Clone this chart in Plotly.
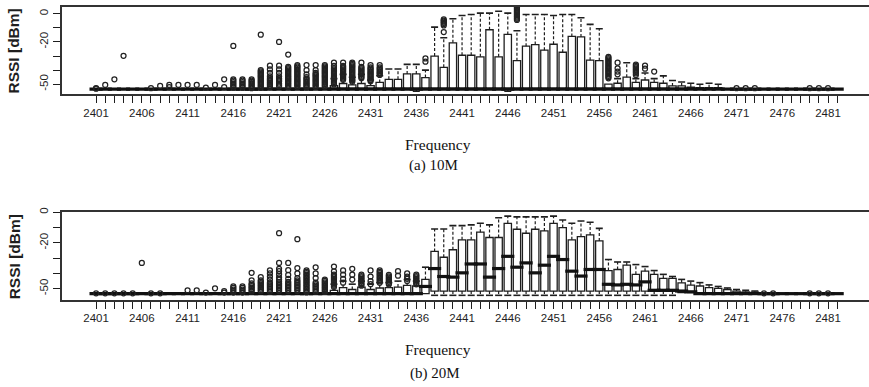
import plotly.graph_objects as go

# ---------------- data ----------------
freqs = list(range(2401, 2483))
label_freqs = [2401, 2406, 2411, 2416, 2421, 2426, 2431, 2436, 2441, 2446,
               2451, 2456, 2461, 2466, 2471, 2476, 2481]
y_ticks = [0, -10, -20, -30, -40, -50]
y_labels = ["0", "", "-20", "", "", "-50"]

# (a) 10M  -- five-number summaries per frequency (2401..2482)
a_q1 = [-53.5] * 82
a_med = [-53.5] * 82
a_q3 = [-53.5, -53.5, -53.5, -53.5, -53.5, -53.5, -53.5, -53.5, -53.5, -53.5,
        -53.5, -53.5, -53.5, -53.5, -53.5, -53.5, -53.5, -53.5, -53.5, -53.5,
        -53.5, -53.5, -53.5, -53.5, -53.5, -53.5, -51.0, -49.5, -50.5, -49.5,
        -51.0, -48.7, -46.5, -46.5, -42.7, -42.7, -45.3, -30.0, -38.0, -20.6,
        -29.4, -29.4, -30.5, -11.3, -30.5, -14.6, -33.3, -23.0, -21.8, -25.8,
        -21.6, -27.3, -16.0, -16.4, -32.9, -33.3, -50.0, -49.3, -45.0, -48.7,
        -47.0, -48.7, -49.3, -51.2, -51.2, -52.0, -52.5, -52.5, -52.5, -53.5,
        -53.5, -53.5, -53.5, -53.5, -53.5, -53.5, -53.5, -53.5, -53.5, -53.5,
        -53.5, -53.5]
a_hi = [-53.5, -53.5, -53.5, -53.5, -53.5, -53.5, -53.5, -53.5, -53.5, -53.5,
        -53.5, -53.5, -53.5, -53.5, -53.5, -53.5, -53.5, -53.5, -53.5, -53.5,
        -53.5, -53.5, -53.5, -53.5, -53.5, -53.5, -46.0, -43.0, -45.0, -43.0,
        -47.0, -44.0, -39.2, -39.2, -35.9, -35.9, -40.0, -9.4, -17.0, -3.5,
        -1.2, -0.5, 0.5, 0.5, 1.9, 0.5, -12.0, -0.5, -0.5, -0.5,
        -1.2, -0.5, -0.5, -2.8, -7.5, -10.6, -50.0, -46.0, -34.7, -46.0,
        -42.0, -46.0, -44.1, -47.4, -48.4, -49.3, -50.0, -49.3, -50.0, -53.5,
        -53.5, -53.5, -53.5, -53.5, -53.5, -53.5, -53.5, -53.5, -53.5, -53.5,
        -53.5, -53.5]
a_lo = [-53.5, -53.5, -53.5, -53.5, -53.5, -53.5, -53.5, -53.5, -53.5, -53.5,
        -53.5, -53.5, -53.5, -53.5, -53.5, -53.5, -53.5, -53.5, -53.5, -53.5,
        -53.5, -53.5, -53.5, -53.5, -53.5, -53.5, -53.5, -53.5, -53.5, -53.5,
        -53.5, -53.5, -53.5, -53.5, -53.5, -55.0, -53.5, -53.5, -53.5, -53.5,
        -53.5, -53.5, -53.5, -53.5, -53.5, -55.0, -53.5, -53.5, -53.5, -53.5,
        -53.5, -53.5, -53.5, -53.5, -53.5, -53.5, -53.5, -53.5, -53.5, -53.5,
        -53.5, -53.5, -53.5, -53.5, -53.5, -53.5, -53.5, -53.5, -53.5, -53.5,
        -53.5, -53.5, -53.5, -53.5, -53.5, -53.5, -53.5, -53.5, -53.5, -53.5,
        -53.5, -53.5]
a_out = {
    2401: [-53.2, -52.8], 2402: [-50.5], 2403: [-46.5], 2404: [-29.8],
    2407: [-52.8], 2408: [-51.2], 2409: [-50.5, -52.0], 2410: [-50.5],
    2411: [-50.5], 2412: [-50.5], 2413: [-52.5], 2414: [-50.5],
    2415: [-46.5, -52.0],
    2416: [-22.8, -46.5, -47.5, -48.5, -49.5, -50.5, -51.5, -52.5],
    2417: [-46.5, -47.5, -48.5, -49.5, -50.5, -51.5, -52.5],
    2418: [-46.5, -47.4, -48.3, -49.2, -50.1, -51.0, -51.9, -52.8],
    2419: [-14.8, -40.0, -40.9, -41.8, -42.7, -43.6, -44.5, -45.4, -46.3,
           -47.2, -48.1, -49.0, -49.9, -50.8, -51.7, -52.6],
    2420: [-36.8, -39.5, -42.0, -44.5, -46.0, -47.0, -48.0, -49.0, -50.0,
           -51.0, -52.0],
    2421: [-20.0, -36.8, -39.5, -42.0, -44.5, -46.0, -47.0, -48.0, -49.5,
           -50.5, -51.5],
    2422: [-28.9, -37.6, -38.5, -39.4, -40.3, -41.2, -42.1, -43.0, -43.9,
           -44.8, -45.7, -46.6, -47.5, -48.4, -49.3, -50.2, -51.1, -52.0],
    2423: [-36.5, -37.4, -38.3, -39.2, -40.1, -41.0, -41.9, -42.8, -43.7,
           -44.6, -45.5, -46.4, -47.3, -48.2, -49.1, -50.0, -50.9, -51.8],
    2424: [-36.4, -40.0, -43.0, -45.0, -46.0, -46.9, -47.8, -48.7, -49.6,
           -50.5, -51.4, -52.3],
    2425: [-36.4, -40.0, -42.0, -42.9, -43.8, -44.7, -45.6, -46.5, -47.4,
           -48.3, -49.2, -50.1, -51.0, -51.9],
    2426: [-36.4, -37.3, -38.2, -39.1, -40.0, -40.9, -41.8, -42.7, -43.6,
           -44.5, -45.4, -46.3, -47.2, -48.1, -49.0, -49.9, -50.8, -51.7],
    2427: [-34.7, -37.0, -38.5, -39.4, -40.3, -41.2, -42.1, -43.0, -43.9,
           -44.8, -45.7, -46.6, -47.5, -48.4, -49.3, -50.2],
    2428: [-34.7, -37.0, -37.9, -38.8, -39.7, -40.6, -41.5, -42.4, -43.3,
           -44.2, -45.1, -46.0, -46.9],
    2429: [-34.7, -35.6, -36.5, -37.4, -38.3, -39.2, -40.1, -41.0, -41.9,
           -42.8, -43.7, -44.6, -45.5, -46.4, -47.3, -48.2],
    2430: [-34.7, -37.6, -38.5, -39.4, -40.3, -41.2, -42.1, -43.0, -43.9,
           -44.8, -45.7],
    2431: [-36.4, -38.0, -38.9, -39.8, -40.7, -41.6, -42.5, -43.4, -44.3,
           -45.2, -46.1, -47.0, -47.9],
    2432: [-36.4, -38.0, -38.9, -39.8, -40.7, -41.6, -42.5, -43.4],
    2437: [-31.7, -34.0],
    2439: [-4.0, -4.8, -5.6, -6.4, -7.2, -8.2, -12.9],
    2447: [4.5, 3.7, 2.9, 2.1, 1.3, 0.5, -0.3, -1.1, -1.9, -2.7, -3.5, -4.3],
    2457: [-30.5, -31.4, -32.3, -33.2, -34.1, -35.0, -35.9, -36.8, -37.7,
           -38.6, -39.5, -40.4, -41.3, -42.2, -43.1, -44.0, -44.9, -45.8],
    2458: [-34.7, -38.7, -41.0, -43.0],
    2460: [-36.0, -36.9, -37.8, -38.7, -39.6, -40.5, -41.4, -42.3, -43.5],
    2461: [-36.8, -39.0],
    2462: [-41.0],
    2471: [-52.8], 2472: [-52.8], 2473: [-52.8],
    2479: [-52.8], 2480: [-52.8], 2481: [-52.8],
}

# (b) 20M
b_q1 = [-53.2, -53.2, -53.2, -53.2, -53.2, -53.2, -53.2, -53.2, -53.2, -53.2,
        -53.2, -53.2, -53.2, -53.2, -53.2, -53.2, -53.2, -53.2, -53.2, -53.2,
        -53.2, -53.2, -53.2, -53.2, -53.2, -53.2, -53.2, -53.2, -53.2, -53.2,
        -53.2, -53.2, -53.2, -53.2, -53.2, -53.2, -53.2, -51.5, -51.5, -51.5,
        -51.5, -51.5, -51.5, -51.5, -51.5, -51.5, -51.5, -51.5, -51.5, -51.5,
        -51.5, -51.5, -51.5, -51.5, -51.5, -51.5, -51.5, -51.5, -51.5, -51.5,
        -51.5, -51.5, -51.5, -51.5, -52.5, -52.5, -53.2, -53.2, -53.2, -53.2,
        -53.2, -53.2, -53.2, -53.2, -53.2, -53.2, -53.2, -53.2, -53.2, -53.2,
        -53.2, -53.2]
b_med = [-53.2, -53.2, -53.2, -53.2, -53.2, -53.2, -53.2, -53.2, -53.2, -53.2,
         -53.2, -53.2, -53.2, -53.2, -53.2, -53.2, -53.2, -53.2, -53.2, -53.2,
         -53.2, -53.2, -53.2, -53.2, -53.2, -53.2, -53.2, -53.2, -53.2, -53.2,
         -53.2, -53.2, -53.2, -53.2, -53.2, -53.2, -48.5, -36.8, -42.0, -42.4,
         -39.6, -33.8, -33.8, -42.4, -36.8, -28.8, -35.9, -33.1, -39.6, -34.6,
         -28.8, -30.9, -38.5, -41.7, -37.4, -37.4, -47.1, -47.5, -47.1, -47.5,
         -45.5, -51.0, -51.0, -51.0, -51.5, -52.0, -53.2, -53.2, -53.2, -53.2,
         -53.2, -53.2, -53.2, -53.2, -53.2, -53.2, -53.2, -53.2, -53.2, -53.2,
         -53.2, -53.2]
b_q3 = [-53.2, -53.2, -53.2, -53.2, -53.2, -53.2, -53.2, -53.2, -53.2, -53.2,
        -53.2, -53.2, -53.2, -53.2, -53.2, -53.2, -53.2, -53.2, -53.2, -53.2,
        -53.2, -53.2, -53.2, -53.2, -53.2, -53.2, -51.0, -49.3, -50.5, -49.0,
        -50.5, -49.5, -49.3, -48.9, -47.8, -48.2, -43.9, -25.6, -29.4, -24.5,
        -18.0, -18.0, -13.0, -16.5, -16.5, -7.2, -11.1, -13.7, -11.1, -12.2,
        -7.2, -10.0, -18.0, -15.9, -14.8, -18.7, -38.1, -37.4, -34.6, -40.6,
        -38.5, -40.6, -43.2, -43.2, -46.1, -47.6, -48.2, -49.3, -49.7, -50.5,
        -51.5, -52.0, -52.2, -53.2, -53.2, -53.2, -53.2, -53.2, -53.2, -53.2,
        -53.2, -53.2]
b_hi = [-53.2, -53.2, -53.2, -53.2, -53.2, -53.2, -53.2, -53.2, -53.2, -53.2,
        -53.2, -53.2, -53.2, -53.2, -53.2, -53.2, -53.2, -53.2, -53.2, -53.2,
        -53.2, -53.2, -53.2, -53.2, -53.2, -53.2, -47.0, -45.0, -47.0, -45.0,
        -47.0, -46.0, -46.0, -45.0, -44.0, -45.0, -35.9, -10.9, -10.9, -8.7,
        -8.7, -8.2, -7.2, -8.2, -3.6, -2.5, -3.0, -3.0, -3.0, -3.0,
        -2.5, -5.0, -7.2, -5.7, -6.5, -10.5, -30.9, -32.5, -32.5, -34.2,
        -35.5, -38.1, -40.6, -42.0, -43.9, -45.0, -46.0, -47.5, -48.5, -49.5,
        -50.5, -51.0, -51.5, -53.2, -53.2, -53.2, -53.2, -53.2, -53.2, -53.2,
        -53.2, -53.2]
b_lo = [-53.2, -53.2, -53.2, -53.2, -53.2, -53.2, -53.2, -53.2, -53.2, -53.2,
        -53.2, -53.2, -53.2, -53.2, -53.2, -53.2, -53.2, -53.2, -53.2, -53.2,
        -53.2, -53.2, -53.2, -53.2, -53.2, -53.2, -53.2, -53.2, -53.2, -53.2,
        -53.2, -53.2, -53.2, -53.2, -53.2, -53.2, -53.2, -54.3, -54.3, -54.3,
        -54.3, -54.3, -54.3, -54.3, -54.3, -54.3, -54.3, -54.3, -54.3, -54.3,
        -54.3, -54.3, -54.3, -54.3, -54.3, -54.3, -54.3, -54.3, -54.3, -54.3,
        -54.3, -54.3, -54.3, -54.3, -52.5, -52.5, -53.2, -53.2, -53.2, -53.2,
        -53.2, -53.2, -53.2, -53.2, -53.2, -53.2, -53.2, -53.2, -53.2, -53.2,
        -53.2, -53.2]
b_out = {
    2401: [-53.0], 2402: [-53.0], 2403: [-53.0], 2404: [-53.0], 2405: [-53.0],
    2406: [-33.1], 2407: [-53.0], 2408: [-53.0],
    2411: [-51.0], 2412: [-51.0], 2413: [-52.5], 2414: [-49.7],
    2415: [-51.5, -52.5],
    2416: [-48.5, -49.5, -50.5, -51.5, -52.5],
    2417: [-48.5, -49.5, -50.5, -51.5, -52.5],
    2418: [-39.6, -44.5, -46.5, -47.4, -48.3, -49.2, -50.1, -51.0, -51.9],
    2419: [-42.4, -44.5, -45.4, -46.3, -47.2, -48.1, -49.0, -49.9, -50.8, -51.7],
    2420: [-38.0, -40.0, -42.0, -44.0, -46.0, -47.0, -48.0, -49.0, -50.0,
           -51.0, -52.0],
    2421: [-13.7, -33.1, -37.0, -38.5, -40.5, -42.5, -44.0, -45.5, -46.5,
           -47.5, -48.5, -49.5, -50.5, -51.5],
    2422: [-33.1, -37.9, -41.0, -43.5, -45.5, -46.5, -47.5, -48.5, -49.5,
           -50.5, -51.5],
    2423: [-17.6, -36.5, -40.0, -43.0, -44.5, -45.5, -46.5, -47.5, -48.5,
           -49.5, -50.5, -51.5],
    2424: [-38.0, -38.9, -39.8, -40.7, -41.6, -42.5, -43.4, -44.3, -45.2,
           -46.1, -47.0, -47.9, -48.8, -49.7, -50.6, -51.5, -52.4],
    2425: [-36.0, -40.0, -43.0, -46.0, -47.0, -48.0, -49.0, -50.0, -51.0, -52.0],
    2426: [-44.0, -44.9, -45.8, -46.7, -47.6, -48.5, -49.4, -50.3, -51.2, -52.1],
    2427: [-35.5, -38.7, -40.8, -41.7, -42.6, -43.5, -44.4, -45.3, -46.2,
           -47.1, -48.0, -48.9],
    2428: [-38.0, -40.8, -43.5, -46.0],
    2429: [-37.0, -40.8, -44.0],
    2430: [-40.8, -41.7, -42.6, -43.5, -44.4, -45.3, -46.2, -47.1, -48.0],
    2431: [-38.0, -42.0, -45.0, -47.0],
    2432: [-38.0, -38.9, -39.8, -40.7, -41.6, -42.5, -43.4, -44.3, -45.2, -46.1],
    2433: [-41.0, -41.9, -42.8, -43.7, -44.6, -45.5, -46.4, -47.3],
    2434: [-38.5, -41.5],
    2435: [-40.0, -42.0, -43.5, -45.0],
    2436: [-40.8, -41.7, -42.6, -43.5, -44.4, -45.3, -46.2, -47.1],
    2474: [-53.0], 2475: [-53.0],
    2479: [-53.0], 2480: [-53.0], 2481: [-53.0],
}

# ---------------- figure ----------------
W, H = 869, 387
FONT = "Liberation Sans, Arial, sans-serif"
SERIF = "Liberation Serif, Times New Roman, serif"
INK = "#1e1e1e"

fig = go.Figure()


def add_panel(q1, med, q3, lo, hi, outliers, xa, ya):
    fig.add_trace(go.Box(
        x=freqs, q1=q1, median=med, q3=q3, lowerfence=q1, upperfence=q3,
        width=0.8, whiskerwidth=0, boxpoints=False,
        fillcolor="white", line=dict(color=INK, width=1.3),
        xaxis=xa, yaxis=ya, showlegend=False, hoverinfo="skip"))
    # dashed whiskers
    wx, wy = [], []
    cx, cy = [], []
    for f, a, b, l, h in zip(freqs, q1, q3, lo, hi):
        if h > b:
            wx += [f, f, None]
            wy += [b, h, None]
            cx.append(f)
            cy.append(h)
        if l < a:
            wx += [f, f, None]
            wy += [a, l, None]
            cx.append(f)
            cy.append(l)
    fig.add_trace(go.Scatter(
        x=wx, y=wy, mode="lines", line=dict(color=INK, width=1.2, dash="3px,2px"),
        xaxis=xa, yaxis=ya, showlegend=False, hoverinfo="skip"))
    fig.add_trace(go.Scatter(
        x=cx, y=cy, mode="markers",
        marker=dict(symbol="line-ew", size=5, color=INK, line=dict(color=INK, width=1.6)),
        xaxis=xa, yaxis=ya, showlegend=False, hoverinfo="skip"))
    # thick medians
    fig.add_trace(go.Scatter(
        x=freqs, y=med, mode="markers",
        marker=dict(symbol="line-ew", size=9.4, color="#111", line=dict(color="#111", width=3.2)),
        xaxis=xa, yaxis=ya, showlegend=False, hoverinfo="skip"))
    # outliers
    ox, oy = [], []
    for f, vals in outliers.items():
        for v in vals:
            ox.append(f)
            oy.append(v)
    fig.add_trace(go.Scatter(
        x=ox, y=oy, mode="markers",
        marker=dict(symbol="circle-open", size=5, color="#222", line=dict(color="#222", width=1.25)),
        xaxis=xa, yaxis=ya, showlegend=False, hoverinfo="skip"))


add_panel(a_q1, a_med, a_q3, a_lo, a_hi, a_out, "x", "y")
add_panel(b_q1, b_med, b_q3, b_lo, b_hi, b_out, "x2", "y2")

x_text = [str(f) if f in label_freqs else "" for f in freqs]
x_left = 61.5 / W
xcommon = dict(
    domain=[x_left, 1], range=[2397.22, 2485.48],
    tickmode="array", tickvals=freqs, ticktext=x_text,
    ticks="outside", ticklen=7, tickwidth=1.4, tickcolor=INK,
    showline=True, mirror=True, linecolor="#333", linewidth=1.5,
    showgrid=False, zeroline=False,
    tickfont=dict(family=FONT, size=11.5, color=INK),
)
ycommon = dict(
    tickmode="array", tickvals=y_ticks, ticktext=y_labels,
    ticks="outside", ticklen=7, tickwidth=1.4, tickcolor=INK,
    tickangle=-90,
    showline=True, mirror=False, linecolor="#333", linewidth=1.5,
    showgrid=False, zeroline=False,
    tickfont=dict(family=FONT, size=11.5, color=INK),
)

fig.update_layout(
    width=W, height=H,
    margin=dict(l=0, r=0, t=0, b=0),
    paper_bgcolor="white", plot_bgcolor="white",
    showlegend=False,
    xaxis=dict(anchor="y", **xcommon),
    yaxis=dict(anchor="x", domain=[1 - 91 / H, 1 - 3 / H], range=[-57.0, 4.9], **ycommon),
    xaxis2=dict(anchor="y2", **xcommon),
    yaxis2=dict(anchor="x2", domain=[1 - 299 / H, 1 - 210 / H], range=[-57.3, 0.3], **ycommon),
)

ann = [
    dict(text="<b>RSSI [dBm]</b>", x=14 / W, y=1 - 48 / H, textangle=-90,
         font=dict(family=FONT, size=15.5, color=INK)),
    dict(text="<b>RSSI [dBm]</b>", x=14 / W, y=1 - 256 / H, textangle=-90,
         font=dict(family=FONT, size=15.5, color=INK)),
    dict(text="Frequency", x=438 / W, y=1 - 142 / H,
         font=dict(family=SERIF, size=15.5, color="#111")),
    dict(text="(a) 10M", x=433 / W, y=1 - 163 / H,
         font=dict(family=SERIF, size=15, color="#111")),
    dict(text="Frequency", x=438 / W, y=1 - 349 / H,
         font=dict(family=SERIF, size=15.5, color="#111")),
    dict(text="(b) 20M", x=435 / W, y=1 - 373 / H,
         font=dict(family=SERIF, size=15, color="#111")),
]
for a in ann:
    a.update(xref="paper", yref="paper", showarrow=False, xanchor="center", yanchor="middle")
fig.update_layout(annotations=ann)

fig.write_html("out.html")
